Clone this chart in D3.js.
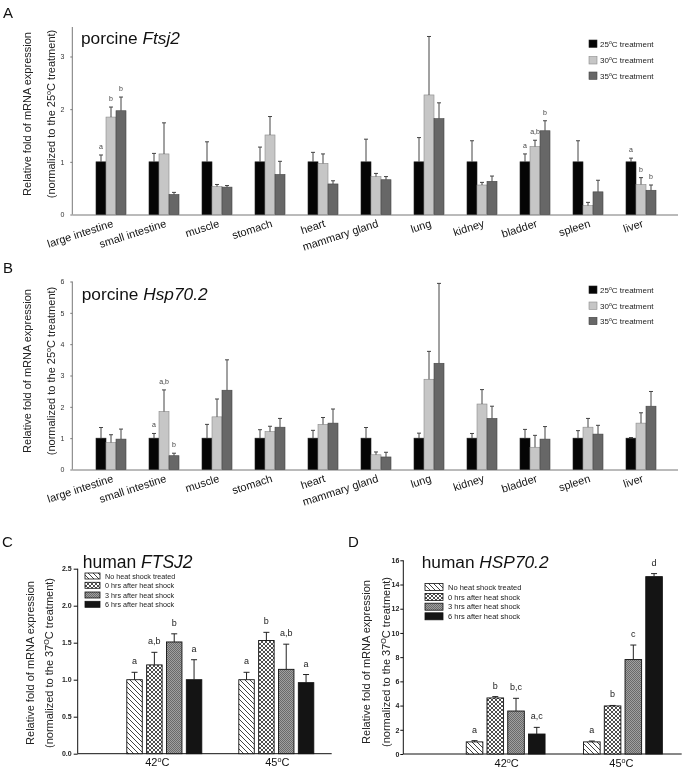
<!DOCTYPE html>
<html><head><meta charset="utf-8">
<script src="https://cdn.jsdelivr.net/npm/d3@7"></script>
<style>body{margin:0;background:#fff} svg{display:block;font-family:"Liberation Sans",Arial,sans-serif;will-change:transform}</style>
</head><body><svg id="c" width="686" height="769"></svg>
<script>
// ---------------- DATA ----------------
const tissues = ["large intestine","small intestine","muscle","stomach","heart","mammary gland","lung","kidney","bladder","spleen","liver"];
const porcineTemps = ["25","30","35"];
// Panel A: porcine Ftsj2
const ftsj2_25 = [1,1,1,1,1,1,1,1,1,1,1];
const ftsj2_25_se = [0.13,0.16,0.38,0.28,0.18,0.43,0.46,0.40,0.15,0.40,0.07];
const ftsj2_30 = [1.85,1.15,0.53,1.51,0.97,0.72,2.27,0.56,1.29,0.17,0.57];
const ftsj2_30_se = [0.19,0.59,0.04,0.35,0.18,0.06,1.11,0.05,0.12,0.06,0.13];
const ftsj2_35 = [1.97,0.38,0.52,0.76,0.58,0.66,1.82,0.63,1.59,0.43,0.46];
const ftsj2_35_se = [0.26,0.04,0.03,0.25,0.06,0.06,0.30,0.10,0.19,0.22,0.10];
const ftsj2_letters_25 = ["a","","","","","","","","a","","a"];
const ftsj2_letters_30 = ["b","","","","","","","","a,b","","b"];
const ftsj2_letters_35 = ["b","","","","","","","","b","","b"];
const ftsj2_ticks = [0,1,2,3];
// Panel B: porcine Hsp70.2
const hsp_25 = [1,1,1,1,1,1,1,1,1,1,1];
const hsp_25_se = [0.34,0.15,0.44,0.27,0.25,0.34,0.16,0.15,0.28,0.24,0.02];
const hsp_30 = [0.86,1.85,1.68,1.21,1.44,0.47,2.88,2.09,0.71,1.35,1.48];
const hsp_30_se = [0.25,0.69,0.57,0.17,0.22,0.09,0.89,0.46,0.38,0.28,0.33];
const hsp_35 = [0.97,0.44,2.53,1.35,1.48,0.40,3.39,1.63,0.97,1.13,2.02];
const hsp_35_se = [0.32,0.08,0.97,0.28,0.45,0.15,2.55,0.39,0.40,0.28,0.47];
const hsp_letters_25 = ["","a","","","","","","","","",""];
const hsp_letters_30 = ["","a,b","","","","","","","","",""];
const hsp_letters_35 = ["","b","","","","","","","","",""];
const hsp_ticks = [0,1,2,3,4,5,6];
// Panels C/D: human cells
const conditions = ["42","45"];
const treatments = ["No heat shock treated","0 hrs after heat shock","3 hrs after heat shock","6 hrs after heat shock"];
const hFTSJ2_none = [1.00,1.00], hFTSJ2_none_se = [0.10,0.10];
const hFTSJ2_0h = [1.20,1.53], hFTSJ2_0h_se = [0.17,0.11];
const hFTSJ2_3h = [1.51,1.14], hFTSJ2_3h_se = [0.11,0.34];
const hFTSJ2_6h = [1.00,0.96], hFTSJ2_6h_se = [0.27,0.11];
const hFTSJ2_letters = [["a","a,b","b","a"],["a","b","a,b","a"]];
const hFTSJ2_ticks = [0,0.5,1.0,1.5,2.0,2.5];
const hHSP_none = [1.00,1.00], hHSP_none_se = [0.10,0.07];
const hHSP_0h = [4.63,3.97], hHSP_0h_se = [0.11,0.04];
const hHSP_3h = [3.55,7.80], hHSP_3h_se = [1.05,1.20];
const hHSP_6h = [1.65,14.65], hHSP_6h_se = [0.55,0.25];
const hHSP_letters = [["a","b","b,c","a,c"],["a","b","c","d"]];
const hHSP_ticks = [0,2,4,6,8,10,12,14,16];

// ---------------- DRAW ----------------
const svg = d3.select("#c");
const defs = svg.append("defs");
const pDiag = defs.append("pattern").attr("id","pDiag").attr("patternUnits","userSpaceOnUse").attr("width",5).attr("height",5);
pDiag.append("rect").attr("width",5).attr("height",5).attr("fill","#fff");
pDiag.append("path").attr("d","M0,0L5,5M-1,4L1,6M4,-1L6,1").attr("stroke","#111").attr("stroke-width",0.8);
const pCross = defs.append("pattern").attr("id","pCross").attr("patternUnits","userSpaceOnUse").attr("width",4).attr("height",4);
pCross.append("rect").attr("width",4).attr("height",4).attr("fill","#fff");
pCross.append("path").attr("d","M0,0L4,4M4,0L0,4").attr("stroke","#222").attr("stroke-width",0.8);
const pGray = defs.append("pattern").attr("id","pGray").attr("patternUnits","userSpaceOnUse").attr("width",2).attr("height",2);
pGray.append("rect").attr("width",2).attr("height",2).attr("fill","#a0a0a0");
pGray.append("rect").attr("width",1).attr("height",1).attr("fill","#6a6a6a");
pGray.append("rect").attr("x",1).attr("y",1).attr("width",1).attr("height",1).attr("fill","#6a6a6a");
const humanFills = ["url(#pDiag)","url(#pCross)","url(#pGray)","#141414"];

function supText(text, parts, fs, supScale, rise){
  parts.forEach(([t,sup],i)=>{
    const ts = text.append("tspan").text(t);
    if(sup){ ts.attr("font-size",fs*supScale).attr("dy",-rise); }
    else if(i>0 && parts[i-1][1]){ ts.attr("dy",rise); }
  });
}
function panelLabel(txt,x,y){
  svg.append("text").attr("x",x).attr("y",y).attr("font-size",15).attr("fill","#111").text(txt);
}
function title(x,y,plain,ital,fs){
  const t = svg.append("text").attr("x",x).attr("y",y).attr("font-size",fs).attr("fill","#111");
  t.append("tspan").text(plain);
  t.append("tspan").attr("font-style","italic").text(ital);
}
function yTitle(x1,x2,cy,fs,tempParts){
  svg.append("text").attr("transform",`translate(${x1},${cy}) rotate(-90)`).attr("text-anchor","middle")
    .attr("font-size",fs).attr("fill","#222").text("Relative fold of mRNA expression");
  const t = svg.append("text").attr("transform",`translate(${x2},${cy}) rotate(-90)`).attr("text-anchor","middle")
    .attr("font-size",fs).attr("fill","#222");
  supText(t, tempParts, fs, 0.65, 4);
}

function porcine(cfg){
  const g = svg.append("g");
  const y = d3.scaleLinear().domain([0,cfg.yMax]).range([cfg.y0,cfg.yTop]);
  const x = d3.scaleBand().domain(tissues).range([84.5,667.5]).padding(0);
  const xs = d3.scaleBand().domain(porcineTemps).range([-15,15]).padding(0);
  const ya = g.append("g").attr("transform",`translate(${cfg.axX},0)`)
    .call(d3.axisLeft(y).tickValues(cfg.ticks).tickSize(2).tickPadding(6).tickFormat(d3.format("d")));
  ya.select(".domain").remove();
  ya.selectAll("line").attr("stroke","#777");
  ya.selectAll("text").attr("font-size",7).attr("fill","#333").attr("font-family","Liberation Sans, Arial");
  g.append("line").attr("x1",cfg.axX).attr("x2",cfg.axX).attr("y1",cfg.yTop).attr("y2",cfg.y0).attr("stroke","#777");
  const xa = g.append("g").attr("transform",`translate(0,${cfg.y0})`).call(d3.axisBottom(x).tickSize(0));
  xa.select(".domain").remove();
  xa.selectAll("text").attr("y",0).attr("dy",0).attr("x",0).attr("text-anchor","end")
    .attr("transform","translate(3,12) rotate(-18)").attr("font-size",11).attr("fill","#111")
    .attr("font-family","Liberation Sans, Arial");
  g.append("line").attr("x1",cfg.axX).attr("x2",678).attr("y1",cfg.y0+0.5).attr("y2",cfg.y0+0.5).attr("stroke","#777");
  const colors = ["#050505","#c6c6c6","#676767"];
  const strokes = ["#222","#8a8a8a","#444"];
  cfg.series.forEach((s,si)=>{
    tissues.forEach((t,i)=>{
      const cx = x(t)+x.bandwidth()/2 + xs(porcineTemps[si]);
      const v = s.v[i], e = s.se[i];
      g.append("rect").attr("x",cx).attr("y",y(v)).attr("width",xs.bandwidth()).attr("height",y(0)-y(v))
        .attr("fill",colors[si]).attr("stroke",strokes[si]).attr("stroke-width",0.6);
      const mx = cx + xs.bandwidth()/2;
      g.append("line").attr("x1",mx).attr("x2",mx).attr("y1",y(v)).attr("y2",y(v+e)).attr("stroke","#444");
      g.append("line").attr("x1",mx-2).attr("x2",mx+2).attr("y1",y(v+e)).attr("y2",y(v+e)).attr("stroke","#444");
      if(s.lab[i]) g.append("text").attr("x",mx).attr("y",y(v+e)-6).attr("text-anchor","middle")
        .attr("font-size",7).attr("fill","#444").text(s.lab[i]);
    });
  });
  porcineTemps.forEach((tp,i)=>{
    const cy = cfg.legY[i];
    g.append("rect").attr("x",589).attr("y",cy-3.7).attr("width",8).attr("height",7.4)
      .attr("fill",colors[i]).attr("stroke",strokes[i]).attr("stroke-width",0.6);
    const t = g.append("text").attr("x",600).attr("y",cy+2.8).attr("font-size",8).attr("fill","#222");
    supText(t, [[tp,false],["o",true],["C treatment",false]], 8, 0.65, 3);
  });
}

porcine({y0:214.5, yTop:27, yMax:3.56, ticks:ftsj2_ticks, axX:72.3, legY:[43.7,60.3,75.7],
  series:[{v:ftsj2_25,se:ftsj2_25_se,lab:ftsj2_letters_25},{v:ftsj2_30,se:ftsj2_30_se,lab:ftsj2_letters_30},{v:ftsj2_35,se:ftsj2_35_se,lab:ftsj2_letters_35}]});
porcine({y0:469.5, yTop:281.5, yMax:6, ticks:hsp_ticks, axX:72.3, legY:[289.7,305.7,321],
  series:[{v:hsp_25,se:hsp_25_se,lab:hsp_letters_25},{v:hsp_30,se:hsp_30_se,lab:hsp_letters_30},{v:hsp_35,se:hsp_35_se,lab:hsp_letters_35}]});

panelLabel("A",3,17.5); panelLabel("B",3,272.5);
title(81,44,"porcine ","Ftsj2",17.3);
title(81.7,300,"porcine ","Hsp70.2",17.3);
yTitle(31,55,114,11,[["(normalized to the 25",false],["o",true],["C treatment)",false]]);
yTitle(31,55,371,11,[["(normalized to the 25",false],["o",true],["C treatment)",false]]);

function human(cfg){
  const g = svg.append("g");
  const y = d3.scaleLinear().domain([0,cfg.yMax]).range([cfg.y0,cfg.yTop]);
  const x = d3.scaleBand().domain(conditions).range(cfg.xRange).padding(0);
  const xs = d3.scaleBand().domain(d3.range(4)).range([-cfg.gw/2,cfg.gw/2]).paddingInner(cfg.pin).paddingOuter(0);
  const ya = g.append("g").attr("transform",`translate(${cfg.axX},0)`)
    .call(d3.axisLeft(y).tickValues(cfg.ticks).tickSize(cfg.tsz).tickPadding(cfg.tpad).tickFormat(cfg.fmt));
  ya.select(".domain").remove();
  ya.selectAll("line").attr("stroke","#111");
  ya.selectAll("text").attr("font-size",7).attr("font-weight","bold").attr("fill","#222").attr("font-family","Liberation Sans, Arial");
  g.append("line").attr("x1",cfg.axX).attr("x2",cfg.axX).attr("y1",cfg.yTop).attr("y2",cfg.y0).attr("stroke","#111");
  g.append("line").attr("x1",cfg.axX).attr("x2",cfg.axEnd).attr("y1",cfg.y0).attr("y2",cfg.y0).attr("stroke","#111");
  const xa = g.append("g").attr("transform",`translate(0,${cfg.y0})`).call(d3.axisBottom(x).tickSize(0).tickFormat(""));
  xa.select(".domain").remove();
  conditions.forEach((c,ci)=>{
    const t = g.append("text").attr("x",x(c)+x.bandwidth()/2 + cfg.labDx[ci]).attr("y",cfg.y0+12.5).attr("text-anchor","middle")
      .attr("font-size",11).attr("fill","#111");
    supText(t,[[c,false],["o",true],["C",false]],11,0.65,4);
  });
  cfg.series.forEach((s,si)=>{
    conditions.forEach((c,ci)=>{
      const bx = x(c)+x.bandwidth()/2 + xs(si);
      const v = s.v[ci], e = s.se[ci];
      g.append("rect").attr("x",bx).attr("y",y(v)).attr("width",xs.bandwidth()).attr("height",y(0)-y(v))
        .attr("fill",humanFills[si]).attr("stroke","#111").attr("stroke-width",0.9);
      const mx = bx + xs.bandwidth()/2;
      g.append("line").attr("x1",mx).attr("x2",mx).attr("y1",y(v)).attr("y2",y(v+e)).attr("stroke","#222");
      g.append("line").attr("x1",mx-3).attr("x2",mx+3).attr("y1",y(v+e)).attr("y2",y(v+e)).attr("stroke","#222");
      g.append("text").attr("x",mx).attr("y",y(v+e)-8).attr("text-anchor","middle")
        .attr("font-size",9).attr("fill","#222").text(cfg.letters[ci][si]);
    });
  });
  treatments.forEach((tr,i)=>{
    const cy = cfg.legY[i];
    g.append("rect").attr("x",cfg.legX).attr("y",cy-cfg.bh/2).attr("width",cfg.bw).attr("height",cfg.bh)
      .attr("fill",humanFills[i]).attr("stroke","#111").attr("stroke-width",0.8);
    g.append("text").attr("x",cfg.legX+cfg.bw+5).attr("y",cy+2.6).attr("font-size",cfg.lfs).attr("fill","#222").text(tr);
  });
}

human({y0:753.7, yTop:568.7, yMax:2.5, ticks:hFTSJ2_ticks, fmt:d3.format(".1f"), axX:77.7, axEnd:331.7, tsz:4, tpad:2,
  xRange:[108.3,332.3], gw:75, pin:0.22, labDx:[-7,1], legX:85, legY:[576,585.3,595,604.3], bw:15, bh:6, lfs:7.2,
  letters:hFTSJ2_letters,
  series:[{v:hFTSJ2_none,se:hFTSJ2_none_se},{v:hFTSJ2_0h,se:hFTSJ2_0h_se},{v:hFTSJ2_3h,se:hFTSJ2_3h_se},{v:hFTSJ2_6h,se:hFTSJ2_6h_se}]});
human({y0:754, yTop:560.3, yMax:16, ticks:hHSP_ticks, fmt:d3.format("d"), axX:403.3, axEnd:681.7, tsz:3, tpad:1,
  xRange:[447,681.6], gw:78.8, pin:0.2, labDx:[1,-1.5], legX:425, legY:[587,597,606.7,616.3], bw:18, bh:7, lfs:7.5,
  letters:hHSP_letters,
  series:[{v:hHSP_none,se:hHSP_none_se},{v:hHSP_0h,se:hHSP_0h_se},{v:hHSP_3h,se:hHSP_3h_se},{v:hHSP_6h,se:hHSP_6h_se}]});

panelLabel("C",2,547); panelLabel("D",348,547);
title(82.7,568,"human ","FTSJ2",17.5);
title(421.7,568,"human ","HSP70.2",17.3);
yTitle(34,53,663,11,[["(normalized to the 37",false],["O",true],["C treatment)",false]]);
yTitle(369.5,389.5,662,11,[["(normalized to the 37",false],["O",true],["C treatment)",false]]);
</script></body></html>
